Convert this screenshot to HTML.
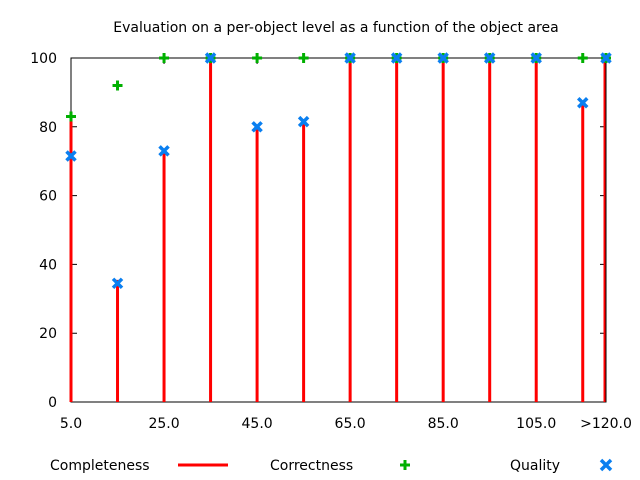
<!DOCTYPE html>
<html><head><meta charset="utf-8"><style>
body{margin:0;background:#fff}
svg{display:block;font-family:"DejaVu Sans","Liberation Sans",sans-serif}
</style></head><body>
<svg id="chart" width="640" height="480">
<text x="336" y="32" font-size="14" text-anchor="middle">Evaluation on a per-object level as a function of the object area</text>
<g id="axes"></g>
<g id="marks"></g>
<g>
<text x="50" y="470" font-size="14">Completeness</text>
<line x1="178" y1="465" x2="228" y2="465" stroke="#ff0000" stroke-width="3"/>
<text x="270" y="470" font-size="14">Correctness</text>
<path d="M400,465h10M405,460v10" stroke="#00b000" stroke-width="3"/>
<text x="510" y="470" font-size="14">Quality</text>
<path d="M601,460l10,10M611,460l-10,10" stroke="#0a7ff0" stroke-width="3.5"/>
</g>
</svg>
<script>
const categories=[5,15,25,35,45,55,65,75,85,95,105,115,120];
const completeness=[83,35.5,73,100,80,81.5,100,100,100,100,100,87,100];
const correctness=[83,92,100,100,100,100,100,100,100,100,100,100,100];
const quality=[71.5,34.5,73,100,80,81.5,100,100,100,100,100,87,100];
const yTicks=[0,20,40,60,80,100];
const xTicks=[5,25,45,65,85,105,120];
const xTickLabels=["5.0","25.0","45.0","65.0","85.0","105.0",">120.0"];
const NS="http://www.w3.org/2000/svg";
const X0=71,X1=606,Y0=402,Y1=58;
function xs(v){return X0+(v-5)/(120-5)*(X1-X0);}
function ys(v){return Y0-v/100*(Y0-Y1);}
function mk(tag,attrs,parent){const e=document.createElementNS(NS,tag);for(const k in attrs)e.setAttribute(k,attrs[k]);parent.appendChild(e);return e;}
const axes=document.getElementById('axes'),marks=document.getElementById('marks');
const frame=mk('rect',{x:X0,y:Y1,width:X1-X0,height:Y0-Y1,fill:'none',stroke:'#000','stroke-width':1},axes);


yTicks.forEach(v=>{
  const t=mk('path',{d:`M${X0},${ys(v)}h6M${X1},${ys(v)}h-6`,stroke:'#000'},axes);
  
  
  const l=mk('text',{x:X0-14,y:ys(v)+5,'font-size':14,'text-anchor':'end'},axes);
  l.textContent=v;
  
  
});
xTicks.forEach((v,i)=>{
  const t=mk('path',{d:`M${xs(v)},${Y0}v-6M${xs(v)},${Y1}v6`,stroke:'#000'},axes);
  
  
  const l=mk('text',{x:xs(v),y:Y0+26,'font-size':14,'text-anchor':'middle'},axes);
  l.textContent=xTickLabels[i];
  
  
});
categories.forEach((c,i)=>{
  const x=xs(c)-(i===categories.length-1?1:0);
  const b=mk('line',{x1:x,y1:Y0,x2:x,y2:ys(completeness[i]),stroke:'#ff0000','stroke-width':3},marks);
  
  
});
mk('line',{x1:X1,y1:Y1,x2:X1,y2:Y0,stroke:'#000','stroke-width':1},marks);
categories.forEach((c,i)=>{
  const x=xs(c),y=ys(correctness[i]);
  const p=mk('path',{d:`M${x-5},${y}h10M${x},${y-5}v10`,stroke:'#00b000','stroke-width':3},marks);
  
  
});
categories.forEach((c,i)=>{
  const x=xs(c),y=ys(quality[i]);
  const p=mk('path',{d:`M${x-4.5},${y-4.5}l9,9M${x+4.5},${y-4.5}l-9,9`,stroke:'#0a7ff0','stroke-width':3.5},marks);
  
  
});
</script>
</body></html>
